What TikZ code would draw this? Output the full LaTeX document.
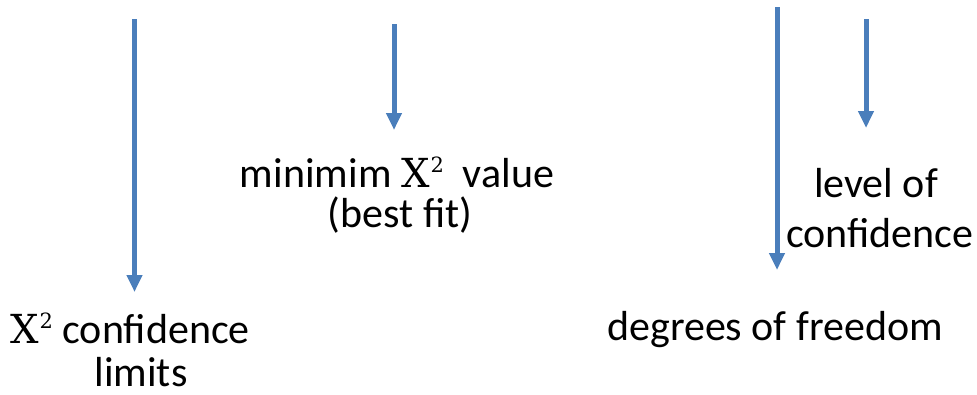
\documentclass[tikz,border=0pt]{standalone}
\usepackage{fontspec}
\setmainfont{Carlito}
\newfontfamily\serifx{DejaVu Serif}
\usetikzlibrary{arrows.meta}
\definecolor{arrowblue}{HTML}{4A7EBB}
\tikzset{
  blue arrow/.style={draw=arrowblue, line width=5pt, -{Triangle[width=15pt,length=17pt]}},
  lbl/.style={anchor=base, inner sep=0pt, font=\fontsize{42}{50}\selectfont}
}
\newcommand{\chisq}{{\serifx\fontsize{40}{40}\selectfont X\kern1pt\raisebox{15pt}{\fontsize{21}{21}\selectfont 2}}}
\begin{document}
\begin{tikzpicture}[x=1pt,y=-1pt]
\useasboundingbox (0,0) rectangle (977,394);
% arrows
\coordinate (a1s) at (134.5,19); \coordinate (a1e) at (134.5,292);
\coordinate (a2s) at (394,24);   \coordinate (a2e) at (394,130);
\coordinate (a3s) at (777,7);    \coordinate (a3e) at (777,270);
\coordinate (a4s) at (866,19);   \coordinate (a4e) at (866,128);
\draw[blue arrow] (a1s) -- (a1e);
\draw[blue arrow] (a2s) -- (a2e);
\draw[blue arrow] (a3s) -- (a3e);
\draw[blue arrow] (a4s) -- (a4e);
% labels
\node[lbl] (min1) at (397,187) {minimim \chisq\ \ value};
\node[lbl] (min2) at (400,227) {(best fit)};
\node[lbl] (lev1) at (876,197) {level of};
\node[lbl] (lev2) at (880,247) {confidence};
\node[lbl] (dof) at (775,340) {degrees of freedom};
\node[lbl] (cl1) at (130,343) {\chisq\ confidence};
\node[lbl, text depth=0pt] (cl2) at (141,386) {limits};
\end{tikzpicture}
\end{document}
